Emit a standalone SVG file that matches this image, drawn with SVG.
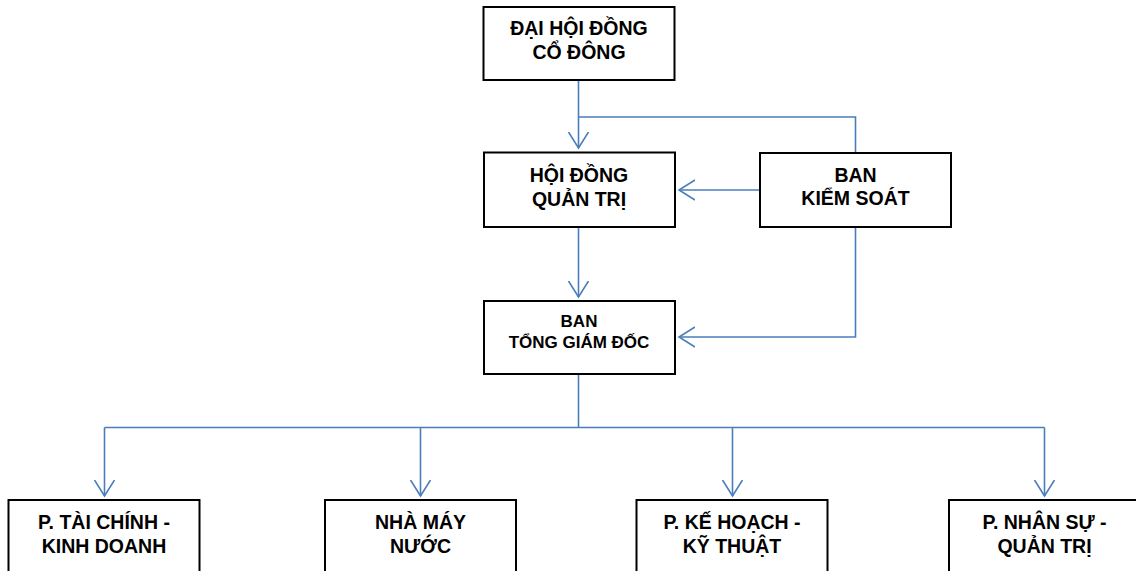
<svg xmlns="http://www.w3.org/2000/svg" width="1136" height="571" viewBox="0 0 1136 571">
<style>
.box{fill:#ffffff;stroke:#000000;stroke-width:2}
.t{font-family:"Liberation Sans",Arial,sans-serif;font-weight:bold;font-size:19.5px;fill:#000000;text-anchor:middle}
.s{font-size:17px}
.c{fill:none;stroke:#4a7ebb;stroke-width:1.6}
</style>
<defs>
<marker id="arr" markerWidth="20" markerHeight="24" refX="16" refY="10" orient="auto" markerUnits="userSpaceOnUse" viewBox="0 0 20 20">
<path d="M0,0 L16,10 L0,20" fill="none" stroke="#4a7ebb" stroke-width="1.6"/>
</marker>
</defs>
<rect width="1136" height="571" fill="#ffffff"/>
<g id="connectors">
<path class="c" d="M578.5,80 V148" marker-end="url(#arr)"/>
<path class="c" d="M578.5,117 H855.5 V153"/>
<path class="c" d="M760,190 H679" marker-end="url(#arr)"/>
<path class="c" d="M578.5,227 V297" marker-end="url(#arr)"/>
<path class="c" d="M855.5,227 V337 H679" marker-end="url(#arr)"/>
<path class="c" d="M578.5,374 V427.5"/>
<path class="c" d="M104.5,427.5 H1044.5"/>
<path class="c" d="M104.5,427.5 V496" marker-end="url(#arr)"/>
<path class="c" d="M420.5,427.5 V496" marker-end="url(#arr)"/>
<path class="c" d="M732.5,427.5 V496" marker-end="url(#arr)"/>
<path class="c" d="M1044.5,427.5 V496" marker-end="url(#arr)"/>
</g>
<g id="dhdcd">
<rect class="box" x="483.5" y="7" width="191" height="73"/>
<text class="t" x="579" y="35">ĐẠI HỘI ĐỒNG</text>
<text class="t" x="579" y="59">CỔ ĐÔNG</text>
</g>
<g id="hdqt">
<rect class="box" x="484" y="152.5" width="191" height="74.5"/>
<text class="t" x="579" y="182">HỘI ĐỒNG</text>
<text class="t" x="579" y="206">QUẢN TRỊ</text>
</g>
<g id="bks">
<rect class="box" x="760" y="153" width="191" height="74"/>
<text class="t" x="855.5" y="182">BAN</text>
<text class="t" x="855.5" y="205">KIỂM SOÁT</text>
</g>
<g id="btgd">
<rect class="box" x="484" y="301" width="191" height="73"/>
<text class="t s" x="579" y="327">BAN</text>
<text class="t s" x="579" y="348">TỔNG GIÁM ĐỐC</text>
</g>
<g id="ptckd">
<rect class="box" x="8.5" y="500" width="191" height="80"/>
<text class="t" x="104" y="529">P. TÀI CHÍNH -</text>
<text class="t" x="104" y="553">KINH DOANH</text>
</g>
<g id="nmn">
<rect class="box" x="325" y="500" width="191" height="80"/>
<text class="t" x="420.5" y="529">NHÀ MÁY</text>
<text class="t" x="420.5" y="553">NƯỚC</text>
</g>
<g id="pkhkt">
<rect class="box" x="636.5" y="500" width="191" height="80"/>
<text class="t" x="732" y="529">P. KẾ HOẠCH -</text>
<text class="t" x="732" y="553">KỸ THUẬT</text>
</g>
<g id="pnsqt">
<rect class="box" x="949" y="500" width="191" height="80"/>
<text class="t" x="1044.5" y="529">P. NHÂN SỰ -</text>
<text class="t" x="1044.5" y="553">QUẢN TRỊ</text>
</g>
</svg>
